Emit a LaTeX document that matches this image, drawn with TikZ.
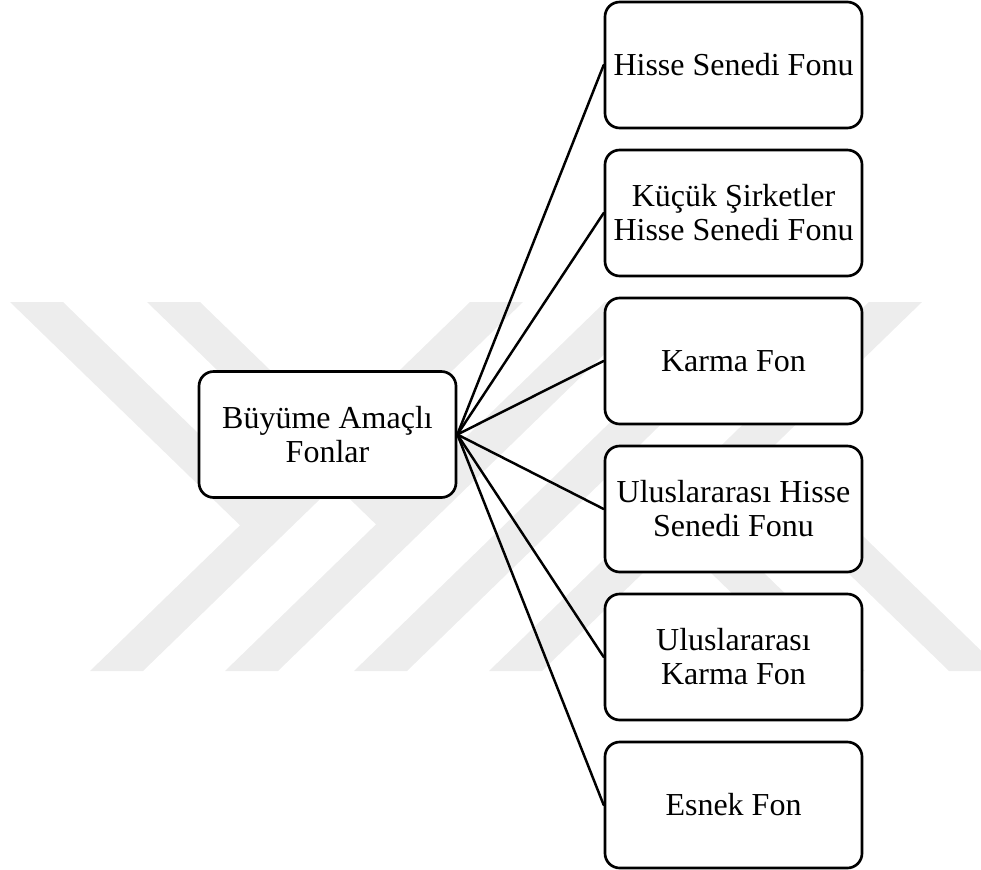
\documentclass[tikz,border=0pt]{standalone}
\usepackage{fontspec}
\setmainfont{Liberation Serif}
\begin{document}
\begin{tikzpicture}[x=0.75pt,y=-0.75pt,
  fund/.style={draw=black, line width=2pt, fill=white, rounded corners=11pt,
    minimum width=192.75pt, minimum height=94.5pt, inner sep=0pt, align=center,
    font=\fontsize{24}{25.5}\selectfont},
  link/.style={line width=1.85pt, line cap=round},
  wm/.style={fill=black!7, draw=none}]
\useasboundingbox (0,0) rectangle (981,870);

% faint logo in the background
\begin{scope}
  \clip (0,0) rectangle (981,870);
  \fill[wm] (470,302) -- (523,302) -- (143,671) -- (90,671) -- cycle;
  \fill[wm] (605,302) -- (658,302) -- (278,671) -- (225,671) -- cycle;
  \fill[wm] (734,302) -- (787,302) -- (407,671) -- (354,671) -- cycle;
  \fill[wm] (869,302) -- (922,302) -- (542,671) -- (489,671) -- cycle;
  \fill[wm] (10,302) -- (63,302) -- (293,525.3) -- (240,525.3) -- cycle;
  \fill[wm] (147,302) -- (200,302) -- (429,524.4) -- (376,524.4) -- cycle;
  \fill[wm] (865,671) -- (812,671) -- (583,448.6) -- (636,448.6) -- cycle;
  \fill[wm] (1002,671) -- (949,671) -- (719,447.7) -- (772,447.7) -- cycle;
\end{scope}

% boxes
\node[fund] (root) at (327.5,434.5) {Büyüme Amaçlı\\Fonlar};
\node[fund] (f1) at (733.5,65)  {Hisse Senedi Fonu};
\node[fund] (f2) at (733.5,213) {Küçük Şirketler\\Hisse Senedi Fonu};
\node[fund] (f3) at (733.5,361) {Karma Fon};
\node[fund] (f4) at (733.5,509) {Uluslararası Hisse\\Senedi Fonu};
\node[fund] (f5) at (733.5,657) {Uluslararası\\Karma Fon};
\node[fund] (f6) at (733.5,805) {Esnek Fon};

% connectors
\foreach \n in {f1,f2,f3,f4,f5,f6}
  \draw[link] (root.east) -- (\n.west);
\end{tikzpicture}
\end{document}
